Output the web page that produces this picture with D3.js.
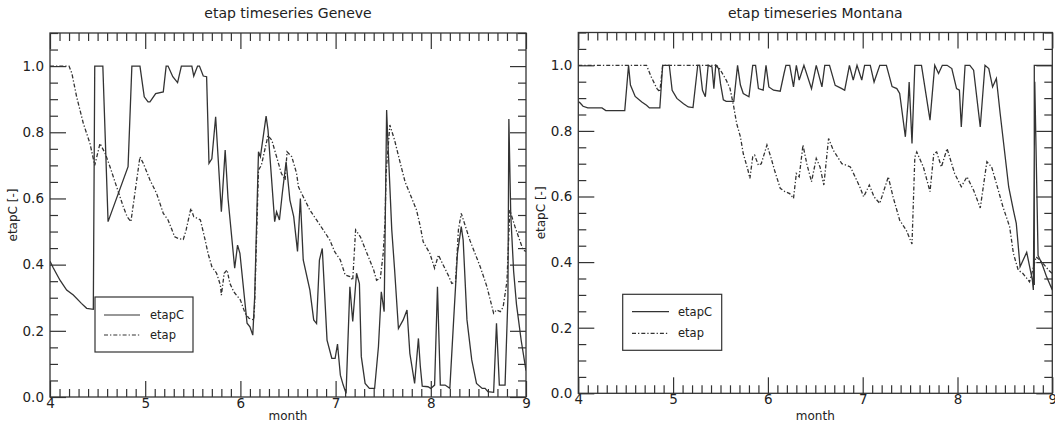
<!DOCTYPE html>
<html><head><meta charset="utf-8">
<script src="https://cdn.jsdelivr.net/npm/d3@7"></script>
<style>
body{margin:0;background:#fff}
svg{display:block}
text{font-family:"DejaVu Sans",sans-serif;fill:#222}
</style>
</head><body>
<svg id="c" width="1055" height="423"></svg>
<script>
// ---------- data ----------
const monthTicks = [4, 5, 6, 7, 8, 9];
const valueTicks = [0.0, 0.2, 0.4, 0.6, 0.8, 1.0];
const seriesNames = ["etapC", "etap"];
const panelTitles = ["etap timeseries Geneve", "etap timeseries Montana"];
const axisLabelX = "month";
const axisLabelY = "etapC [-]";

// [month, value]
const genevaEtapC = [
 [4.0,0.41],[4.035,0.39],[4.105,0.353],[4.175,0.323],[4.245,0.308],[4.33,0.283],[4.385,0.268],[4.455,0.265],
 [4.47,1.0],[4.555,1.0],[4.61,0.53],[4.82,0.696],[4.86,1.0],[4.945,1.0],[4.99,0.907],[5.03,0.892],[5.05,0.892],
 [5.11,0.917],[5.19,0.922],[5.22,1.0],[5.24,1.0],[5.29,0.968],[5.34,0.95],[5.38,1.0],[5.49,1.0],[5.51,0.97],
 [5.55,1.0],[5.57,1.0],[5.61,0.97],[5.645,0.968],[5.67,0.706],[5.70,0.72],[5.74,0.847],[5.80,0.56],[5.84,0.746],
 [5.87,0.6],[5.94,0.389],[5.97,0.459],[5.995,0.434],[6.07,0.223],[6.10,0.212],[6.13,0.187],[6.15,0.303],
 [6.19,0.741],[6.21,0.726],[6.27,0.849],[6.29,0.807],[6.36,0.53],[6.38,0.56],[6.41,0.535],[6.44,0.615],
 [6.48,0.711],[6.52,0.595],[6.56,0.545],[6.60,0.44],[6.63,0.6],[6.66,0.414],[6.73,0.323],[6.77,0.233],
 [6.80,0.222],[6.83,0.414],[6.86,0.449],[6.91,0.172],[6.96,0.117],[6.995,0.117],[7.02,0.16],[7.05,0.066],
 [7.08,0.036],[7.11,0.011],[7.15,0.333],[7.18,0.228],[7.22,0.374],[7.25,0.343],[7.27,0.122],[7.31,0.041],
 [7.355,0.026],[7.41,0.026],[7.45,0.152],[7.48,0.318],[7.51,0.258],[7.536,0.867],[7.55,0.766],[7.59,0.505],
 [7.62,0.384],[7.66,0.207],[7.71,0.233],[7.75,0.263],[7.78,0.132],[7.83,0.041],[7.87,0.177],[7.89,0.092],
 [7.91,0.033],[7.97,0.031],[8.0,0.026],[8.04,0.036],[8.07,0.333],[8.10,0.036],[8.15,0.036],[8.20,0.026],
 [8.24,0.233],[8.28,0.434],[8.32,0.515],[8.34,0.474],[8.38,0.233],[8.43,0.112],[8.48,0.041],[8.54,0.026],
 [8.57,0.026],[8.60,0.016],[8.66,0.014],[8.69,0.223],[8.72,0.036],[8.78,0.036],[8.81,0.3],[8.82,0.84],
 [8.84,0.55],[8.87,0.38],[8.90,0.28],[8.95,0.17],[9.0,0.08]
];
const genevaEtap = [
 [4.0,1.0],[4.2,1.0],[4.23,0.978],[4.28,0.907],[4.35,0.827],[4.42,0.766],[4.47,0.70],[4.525,0.766],[4.58,0.736],
 [4.63,0.696],[4.70,0.635],[4.77,0.575],[4.81,0.545],[4.85,0.53],[4.945,0.726],[4.98,0.706],[5.05,0.656],
 [5.12,0.615],[5.19,0.555],[5.24,0.535],[5.31,0.484],[5.35,0.479],[5.40,0.476],[5.43,0.505],[5.48,0.57],
 [5.51,0.545],[5.58,0.535],[5.63,0.474],[5.66,0.434],[5.70,0.394],[5.75,0.374],[5.79,0.338],[5.80,0.308],
 [5.83,0.374],[5.86,0.384],[5.89,0.343],[5.93,0.318],[6.0,0.293],[6.05,0.253],[6.09,0.238],[6.14,0.233],
 [6.15,0.283],[6.17,0.484],[6.19,0.686],[6.22,0.70],[6.29,0.79],[6.33,0.776],[6.38,0.726],[6.43,0.676],
 [6.47,0.656],[6.49,0.741],[6.54,0.726],[6.59,0.676],[6.61,0.635],[6.66,0.605],[6.73,0.565],[6.80,0.535],
 [6.87,0.505],[6.94,0.474],[6.99,0.439],[7.05,0.414],[7.10,0.369],[7.15,0.364],[7.18,0.353],[7.21,0.505],
 [7.26,0.484],[7.33,0.434],[7.40,0.384],[7.43,0.353],[7.47,0.359],[7.50,0.434],[7.52,0.535],[7.53,0.676],
 [7.57,0.822],[7.62,0.776],[7.68,0.706],[7.73,0.65],[7.78,0.615],[7.85,0.565],[7.89,0.515],[7.92,0.469],
 [7.99,0.434],[8.04,0.389],[8.08,0.429],[8.13,0.399],[8.19,0.364],[8.22,0.343],[8.26,0.348],[8.29,0.505],
 [8.32,0.555],[8.41,0.474],[8.52,0.393],[8.59,0.333],[8.66,0.253],[8.69,0.263],[8.73,0.258],[8.76,0.272],
 [8.80,0.35],[8.83,0.565],[8.885,0.514],[8.97,0.444],[9.0,0.44]
];
const montanaEtapC = [
 [4.0,0.89],[4.02,0.885],[4.05,0.875],[4.10,0.87],[4.25,0.87],[4.29,0.862],[4.49,0.862],[4.53,1.0],[4.55,0.94],
 [4.60,0.905],[4.67,0.888],[4.72,0.878],[4.75,0.87],[4.86,0.87],[4.89,1.0],[4.96,1.0],[4.99,0.924],[5.04,0.899],
 [5.11,0.883],[5.16,0.873],[5.21,0.871],[5.26,1.0],[5.28,1.0],[5.31,0.924],[5.34,0.904],[5.37,1.0],[5.41,0.995],
 [5.43,0.929],[5.45,1.0],[5.48,0.99],[5.50,0.944],[5.53,0.895],[5.56,0.89],[5.64,0.89],[5.68,1.0],[5.71,0.94],
 [5.74,0.914],[5.80,0.904],[5.84,1.0],[5.87,1.0],[5.90,0.929],[5.95,0.924],[5.98,1.0],[6.01,0.934],[6.06,0.924],
 [6.13,0.921],[6.17,0.975],[6.19,1.0],[6.23,1.0],[6.27,0.934],[6.30,1.0],[6.33,0.955],[6.38,1.0],[6.46,0.929],
 [6.51,1.0],[6.57,0.934],[6.60,1.0],[6.65,1.0],[6.71,0.939],[6.78,0.929],[6.81,0.924],[6.86,1.0],[6.90,0.955],
 [6.94,1.0],[6.99,0.955],[7.02,1.0],[7.08,1.0],[7.12,0.949],[7.18,1.0],[7.25,1.0],[7.31,0.935],[7.36,0.929],
 [7.39,0.914],[7.45,0.782],[7.48,0.894],[7.49,0.949],[7.52,0.762],[7.55,1.0],[7.62,1.0],[7.71,0.833],[7.76,1.0],
 [7.80,0.975],[7.84,1.0],[7.89,1.0],[7.94,0.99],[7.99,0.929],[8.02,0.924],[8.04,0.812],[8.08,1.0],[8.13,1.0],
 [8.17,0.985],[8.24,0.812],[8.29,1.0],[8.33,0.99],[8.37,0.934],[8.41,0.96],[8.45,0.853],[8.54,0.629],
 [8.59,0.558],[8.62,0.518],[8.66,0.386],[8.73,0.43],[8.79,0.345],[8.80,0.315],[8.815,0.95],[8.85,0.42],
 [8.89,0.396],[8.94,0.355],[9.0,0.315],[9.0,1.0],[8.81,1.0],[8.81,0.33]
];
const montanaEtap = [
 [4.0,1.0],[4.72,1.0],[4.77,0.964],[4.83,0.929],[4.86,0.919],[4.89,1.0],[5.46,1.0],[5.49,0.99],[5.56,0.955],
 [5.60,0.93],[5.64,0.873],[5.67,0.823],[5.71,0.782],[5.74,0.731],[5.79,0.68],[5.81,0.655],[5.84,0.721],
 [5.86,0.726],[5.90,0.695],[5.93,0.70],[5.99,0.757],[6.03,0.721],[6.07,0.68],[6.13,0.625],[6.18,0.615],
 [6.23,0.609],[6.27,0.594],[6.30,0.67],[6.33,0.66],[6.37,0.757],[6.41,0.70],[6.46,0.645],[6.51,0.716],
 [6.55,0.69],[6.59,0.635],[6.64,0.777],[6.69,0.741],[6.78,0.70],[6.83,0.695],[6.87,0.69],[6.92,0.66],
 [6.97,0.629],[7.01,0.599],[7.07,0.635],[7.12,0.599],[7.18,0.579],[7.27,0.66],[7.32,0.599],[7.39,0.528],
 [7.46,0.497],[7.52,0.455],[7.55,0.72],[7.57,0.736],[7.64,0.69],[7.71,0.615],[7.75,0.731],[7.78,0.736],
 [7.83,0.69],[7.89,0.746],[7.97,0.67],[8.04,0.63],[8.10,0.66],[8.17,0.619],[8.24,0.565],[8.31,0.706],
 [8.36,0.69],[8.41,0.64],[8.48,0.568],[8.55,0.508],[8.59,0.426],[8.64,0.376],[8.69,0.365],[8.76,0.34],
 [8.83,0.416],[8.89,0.40],[8.96,0.376],[9.0,0.365]
];

// ---------- layout ----------
const ink = "#333";
const panels = [
  {title: panelTitles[0], etapC: genevaEtapC, etap: genevaEtap,
   left: 50, right: 526, top: 33, bottom: 397, ylabX: 17,
   legend: {x: 95, y: 297, w: 98, h: 55, lx0: 104, lx1: 140, ly: [315, 335], tx: 150}},
  {title: panelTitles[1], etapC: montanaEtapC, etap: montanaEtap,
   left: 578.3, right: 1052.3, top: 32.5, bottom: 393.3, ylabX: 545,
   legend: {x: 622.7, y: 294.3, w: 99, h: 56, lx0: 632, lx1: 669, ly: [311.7, 333.3], tx: 678}}
];
const dashEtap = "4,2,1.3,2";

const svg = d3.select("#c");

panels.forEach((p, i) => {
  const x = d3.scaleLinear().domain([4, 9]).range([p.left, p.right]);
  const y = d3.scaleLinear().domain([0, 1.1]).range([p.bottom, p.top]);
  const g = svg.append("g");
  const cid = "clip" + i;
  g.append("clipPath").attr("id", cid).append("rect")
    .attr("x", p.left).attr("y", p.top).attr("width", p.right - p.left).attr("height", p.bottom - p.top);

  const minorX = d3.range(40, 91).map(d => d / 10).filter(d => Math.abs(d - Math.round(d)) > 1e-6);
  const minorY = d3.range(0, 23).map(d => d * 0.05).filter(d => d <= 1.1001 && Math.abs(d / 0.2 - Math.round(d / 0.2)) > 1e-6);

  const styleAxis = sel => {
    sel.select(".domain").remove();
    sel.selectAll("line").attr("stroke", ink).attr("stroke-width", 1.2);
    sel.selectAll("text").attr("fill", "#222").style("font-family", "DejaVu Sans").style("font-size", "13.5px");
  };

  // bottom
  g.append("g").attr("transform", `translate(0,${p.bottom})`)
    .call(d3.axisBottom(x).tickValues(monthTicks).tickSize(-16).tickPadding(1.5).tickFormat(d3.format("d"))).call(styleAxis);
  g.append("g").attr("transform", `translate(0,${p.bottom})`)
    .call(d3.axisBottom(x).tickValues(minorX).tickSize(-8).tickFormat("")).call(styleAxis);
  // top
  g.append("g").attr("transform", `translate(0,${p.top})`)
    .call(d3.axisTop(x).tickValues(monthTicks).tickSize(-16).tickFormat("")).call(styleAxis);
  g.append("g").attr("transform", `translate(0,${p.top})`)
    .call(d3.axisTop(x).tickValues(minorX).tickSize(-8).tickFormat("")).call(styleAxis);
  // left
  g.append("g").attr("transform", `translate(${p.left},0)`)
    .call(d3.axisLeft(y).tickValues(valueTicks).tickSize(-16).tickPadding(6).tickFormat(d3.format(".1f"))).call(styleAxis);
  g.append("g").attr("transform", `translate(${p.left},0)`)
    .call(d3.axisLeft(y).tickValues(minorY).tickSize(-8).tickFormat("")).call(styleAxis);
  // right
  g.append("g").attr("transform", `translate(${p.right},0)`)
    .call(d3.axisRight(y).tickValues(valueTicks).tickSize(-16).tickFormat("")).call(styleAxis);
  g.append("g").attr("transform", `translate(${p.right},0)`)
    .call(d3.axisRight(y).tickValues(minorY).tickSize(-8).tickFormat("")).call(styleAxis);

  // lines
  const line = d3.line().x(d => x(d[0])).y(d => y(d[1]));
  const lg = g.append("g").attr("clip-path", `url(#${cid})`);
  lg.append("path").datum(p.etap).attr("d", line).attr("fill", "none")
    .attr("stroke", ink).attr("stroke-width", 1.3).attr("stroke-dasharray", dashEtap);
  lg.append("path").datum(p.etapC).attr("d", line).attr("fill", "none")
    .attr("stroke", ink).attr("stroke-width", 1.3).attr("stroke-linejoin", "miter");

  // frame
  g.append("rect").attr("x", p.left).attr("y", p.top).attr("width", p.right - p.left).attr("height", p.bottom - p.top)
    .attr("fill", "none").attr("stroke", ink).attr("stroke-width", 1.3);

  // title and labels
  g.append("text").attr("x", (p.left + p.right) / 2).attr("y", 18).attr("text-anchor", "middle")
    .style("font-size", "14px").text(p.title);
  g.append("text").attr("x", (p.left + p.right) / 2).attr("y", 420).attr("text-anchor", "middle")
    .style("font-size", "12px").text(axisLabelX);
  g.append("text").attr("transform", `translate(${p.ylabX},${(p.top + p.bottom) / 2}) rotate(-90)`)
    .attr("text-anchor", "middle").style("font-size", "12px").text(axisLabelY);

  // legend
  const L = p.legend;
  const leg = g.append("g");
  leg.append("rect").attr("x", L.x).attr("y", L.y).attr("width", L.w).attr("height", L.h)
    .attr("fill", "#fff").attr("stroke", ink).attr("stroke-width", 1.2);
  seriesNames.forEach((name, k) => {
    leg.append("line").attr("x1", L.lx0).attr("x2", L.lx1).attr("y1", L.ly[k]).attr("y2", L.ly[k])
      .attr("stroke", ink).attr("stroke-width", 1.2).attr("stroke-dasharray", k === 1 ? dashEtap : null);
    leg.append("text").attr("x", L.tx).attr("y", L.ly[k] + 4).style("font-size", "11.5px").text(name);
  });
});
</script>
</body></html>
